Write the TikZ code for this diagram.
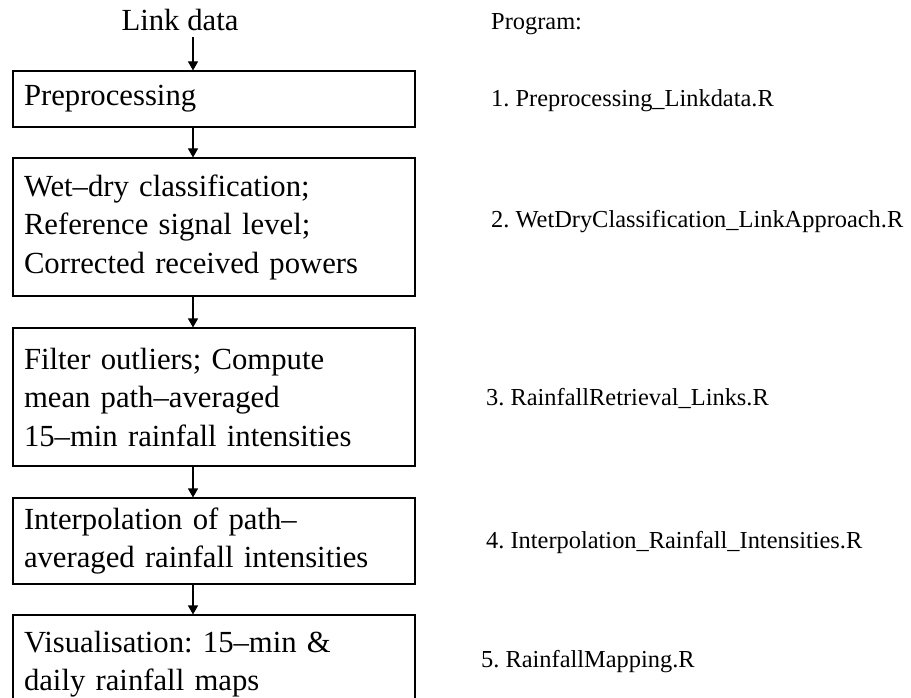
\documentclass[tikz,border=0pt]{standalone}
\usepackage{fontspec}
\setmainfont{Liberation Serif}
\usetikzlibrary{arrows.meta}
\frenchspacing

\begin{document}
\begin{tikzpicture}[x=1pt, y=-1pt,
    stagebox/.style = {draw, line width=1.1pt, minimum width=402pt, text width=380pt,
        inner xsep=11pt, inner ysep=3pt, align=left, font=\fontsize{30.7}{38.5}\selectfont},
    progtext/.style = {anchor=base west, inner sep=0pt, font=\fontsize{24.4}{30}\selectfont},
    flow/.style = {line width=1.1pt, -{Triangle[length=9pt, width=10pt]}}]
  \useasboundingbox (0,0) rectangle (911,698);
  \coordinate (axis) at (193,0);

  % left column: processing steps
  \node[anchor=base, inner sep=6pt, font=\fontsize{30.7}{38.5}\selectfont] (link) at (180,30.7) {Link data};
  \node[stagebox, minimum height=56pt] (pre) at (214,99) {Preprocessing};
  \node[stagebox, minimum height=138pt] (wetdry) at (214,227)
    {Wet--dry classification;\\ Reference signal level;\\ Corrected received powers};
  \node[stagebox, minimum height=138pt] (retrieval) at (214,397)
    {Filter outliers; Compute\\ mean path--averaged\\ 15--min rainfall intensities};
  \node[stagebox, minimum height=86pt] (interp) at (214,541)
    {Interpolation of path--\\ averaged rainfall intensities};
  \node[stagebox, minimum height=98pt] (mapping) at (214,664)
    {Visualisation: 15--min \&\\ daily rainfall maps};

  \draw[flow] (link.south -| axis) -- (pre.north -| axis);
  \draw[flow] (pre.south -| axis) -- (wetdry.north -| axis);
  \draw[flow] (wetdry.south -| axis) -- (retrieval.north -| axis);
  \draw[flow] (retrieval.south -| axis) -- (interp.north -| axis);
  \draw[flow] (interp.south -| axis) -- (mapping.north -| axis);

  % right column: R scripts
  \node[progtext] (prog) at (491,30) {Program:};
  \node[progtext] (script1) at (491,106.7) {1. Preprocessing\_Linkdata.R};
  \node[progtext] (script2) at (491,227) {2. WetDryClassification\_LinkApproach.R};
  \node[progtext] (script3) at (486,405) {3. RainfallRetrieval\_Links.R};
  \node[progtext] (script4) at (486,548) {4. Interpolation\_Rainfall\_Intensities.R};
  \node[progtext] (script5) at (481,667) {5. RainfallMapping.R};
\end{tikzpicture}
\end{document}
